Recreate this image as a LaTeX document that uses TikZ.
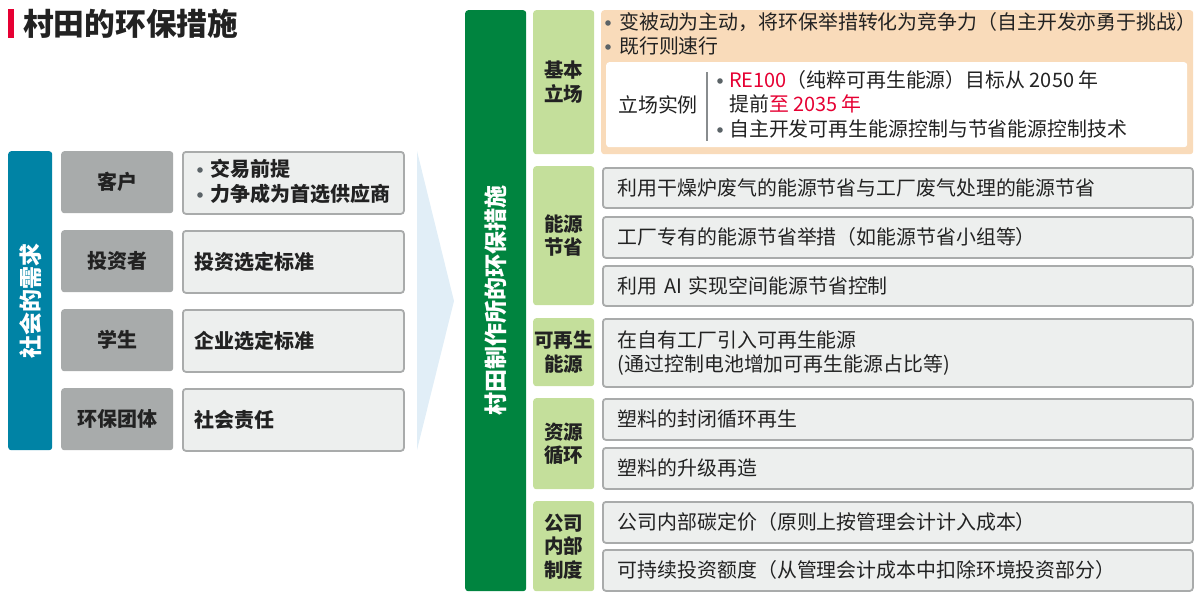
\documentclass[tikz,border=0pt]{standalone}
\usepackage{fontspec}
\setmainfont{Noto Sans CJK SC}
\definecolor{txt}{HTML}{222222}
\definecolor{redmark}{HTML}{E60033}
\definecolor{bluebar}{HTML}{0083A5}
\definecolor{greenbar}{HTML}{00843F}
\definecolor{catgreen}{HTML}{C4DF9B}
\definecolor{orangebg}{HTML}{F9DBBA}
\definecolor{labgray}{HTML}{A8ABAB}
\definecolor{itemfill}{HTML}{EDEFEE}
\definecolor{itemline}{HTML}{A9ABAB}
\definecolor{chevron}{HTML}{E1EEF7}
\definecolor{dotgray}{HTML}{5B6367}
\definecolor{divgray}{HTML}{888C8E}
\newcommand{\bodyfont}{\fontsize{19.9}{24}\selectfont}
\newcommand{\boldfont}{\bfseries\fontsize{19.5}{23.5}\selectfont}
\begin{document}
\begin{tikzpicture}[x=1pt,y=-1pt,
  tl/.style={anchor=west, inner sep=0pt, font=\bodyfont, text=txt},
  labbox/.style={fill=labgray, rounded corners=3pt, anchor=north west, inner sep=0pt,
     font=\bfseries\fontsize{20}{24}\selectfont, text=txt, minimum width=112pt, minimum height=62pt},
  leftitem/.style={draw=itemline, fill=itemfill, line width=1.8pt, rounded corners=3pt,
     anchor=north west, inner xsep=12pt, inner ysep=0pt, align=left,
     font=\bfseries\fontsize{20}{24}\selectfont, text=txt,
     minimum width=221pt, minimum height=62pt, text width=197pt},
  catbox/.style={fill=catgreen, rounded corners=3pt, anchor=north west, inner sep=0pt,
     align=center, font=\boldfont, text=txt, minimum width=61pt},
  itembox/.style={draw=itemline, fill=itemfill, line width=1.8pt, rounded corners=3pt,
     anchor=north west, inner xsep=15pt, inner ysep=0pt, align=left,
     font=\bodyfont, text=txt, minimum width=590pt, text width=560pt},
  bigbar/.style={rounded corners=3pt, anchor=north west, inner sep=0pt},
  vtext/.style={rotate=90, text=white, font=\bfseries\fontsize{23}{26}\selectfont, inner sep=0pt},
  dot/.style={fill=dotgray}
]
\useasboundingbox (0,0) rectangle (1200,600);

% title
\fill[redmark] (8,9) rectangle (14,38);
\node[anchor=west, inner sep=0pt, text=txt, font=\bfseries\fontsize{30.7}{34}\selectfont] (title) at (23,24) {村田的环保措施};

% left: society needs
\node[bigbar, fill=bluebar, minimum width=44pt, minimum height=299pt] (blue) at (8,151) {};
\node[vtext] (bluetxt) at (blue.center) {社会的需求};

\node[labbox] (l1) at (61,151) {客户};
\node[labbox] (l2) at (61,230) {投资者};
\node[labbox] (l3) at (61,309) {学生};
\node[labbox] (l4) at (61,388) {环保团体};

\node[leftitem] (r1) at (182,151) {};
\fill[dot] (200,170) circle (2.8);
\fill[dot] (200,195) circle (2.8);
\node[tl, font=\bfseries\fontsize{20}{24}\selectfont] (r1a) at (210,169) {交易前提};
\node[tl, font=\bfseries\fontsize{20}{24}\selectfont] (r1b) at (210,194) {力争成为首选供应商};
\node[leftitem] (r2) at (182,230) {投资选定标准};
\node[leftitem] (r3) at (182,309) {企业选定标准};
\node[leftitem] (r4) at (182,388) {社会责任};

% chevron
\fill[chevron] (417,151) -- (454,301) -- (417,450) -- cycle;

% green bar
\node[bigbar, fill=greenbar, minimum width=61pt, minimum height=581pt] (green) at (465,10) {};
\node[vtext] (greentxt) at (green.center) {村田制作所的环保措施};

% categories
\node[catbox, minimum height=144pt] (c1) at (533,10) {基本\\立场};
\node[catbox, minimum height=139pt] (c2) at (533,166) {能源\\节省};
\node[catbox, minimum height=68pt] (c3) at (533,318) {可再生\\能源};
\node[catbox, minimum height=91pt] (c4) at (533,398) {资源\\循环};
\node[catbox, minimum height=90pt] (c5) at (533,501) {公司\\内部\\制度};

% basic stance
\node[bigbar, fill=orangebg, minimum width=592pt, minimum height=144pt] (orange) at (601,10) {};
\fill[dot] (608,23) circle (2.8);
\fill[dot] (608,47) circle (2.8);
\node[tl] (o1) at (619,22) {变被动为主动，将环保举措转化为竞争力（自主开发亦勇于挑战）};
\node[tl] (o2) at (619,46) {既行则速行};
\node[bigbar, fill=white, minimum width=581pt, minimum height=85pt] (white) at (606,62) {};
\node[anchor=center, inner sep=0pt, font=\bodyfont, text=txt] (ex) at (658,105) {立场实例};
\coordinate (divtop) at (707,72);
\coordinate (divbot) at (707,141);
\draw[divgray, line width=1.6pt] (divtop) -- (divbot);
\fill[dot] (720,81) circle (2.8);
\fill[dot] (720,130) circle (2.8);
\node[tl] (w1) at (729,80) {\textcolor{redmark}{RE100}（纯粹可再生能源）目标从 2050 年};
\node[tl] (w2) at (729,104) {提前\textcolor{redmark}{至 2035 年}};
\node[tl] (w3) at (729,129) {自主开发可再生能源控制与节省能源控制技术};

% energy saving
\node[itembox, minimum height=40pt] (e1) at (602,167) {利用干燥炉废气的能源节省与工厂废气处理的能源节省};
\node[itembox, minimum height=41pt] (e2) at (602,216) {工厂专有的能源节省举措（如能源节省小组等）};
\node[itembox, minimum height=40pt] (e3) at (602,265) {利用 AI 实现空间能源节省控制};

% renewable
\node[itembox, minimum height=68pt] (g1) at (602,318) {在自有工厂引入可再生能源\\(通过控制电池增加可再生能源占比等)};

% resource recycling
\node[itembox, minimum height=41pt] (p1) at (602,398) {塑料的封闭循环再生};
\node[itembox, minimum height=41pt] (p2) at (602,447) {塑料的升级再造};

% internal system
\node[itembox, minimum height=41pt] (s1) at (602,501) {公司内部碳定价（原则上按管理会计计入成本）};
\node[itembox, minimum height=41pt] (s2) at (602,549) {可持续投资额度（从管理会计成本中扣除环境投资部分）};
\end{tikzpicture}
\end{document}
